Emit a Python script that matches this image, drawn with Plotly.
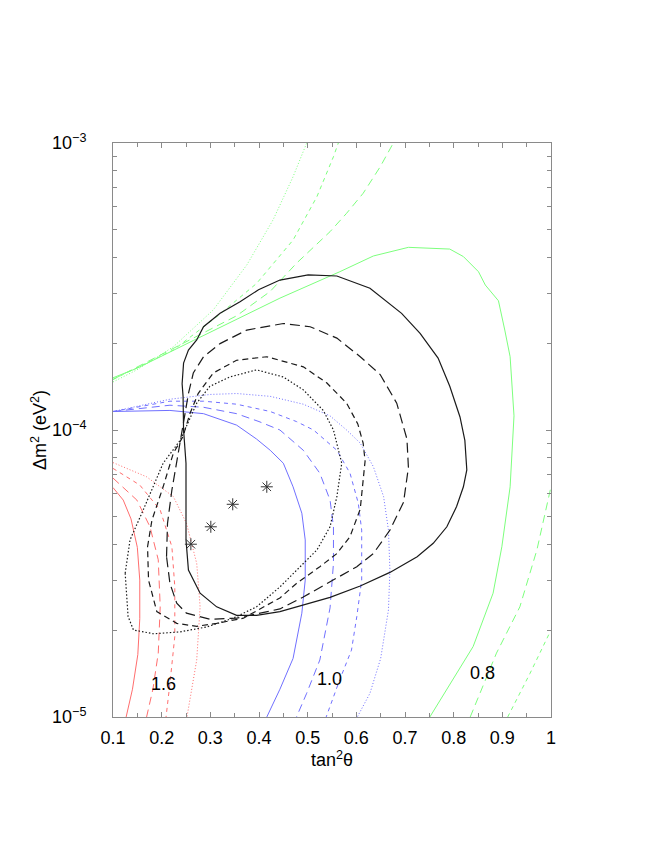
import math

import plotly.graph_objects as go

# ── Data ───────────────────────────────────────────────────────────────────────
# red band contours (label 1.6)
red_solid_x = [0.1, 0.121, 0.137, 0.150, 0.155, 0.155, 0.151, 0.140, 0.127]
red_solid_y = [6.3e-5, 5.7e-5, 4.9e-5, 3.9e-5, 3.0e-5, 2.2e-5, 1.65e-5, 1.25e-5, 1e-5]
red_long_x = [0.1, 0.149, 0.176, 0.193, 0.197, 0.193, 0.182, 0.169]
red_long_y = [6.8e-5, 5.7e-5, 4.6e-5, 3.53e-5, 2.42e-5, 1.67e-5, 1.25e-5, 1e-5]
red_short_x = [0.1, 0.155, 0.197, 0.221, 0.227, 0.227, 0.217, 0.209]
red_short_y = [7.35e-5, 6.43e-5, 5.26e-5, 3.92e-5, 2.84e-5, 1.91e-5, 1.31e-5, 1e-5]
red_dot_x = [0.1, 0.169, 0.224, 0.251, 0.272, 0.279, 0.272, 0.252]
red_dot_y = [7.7e-5, 6.87e-5, 5.86e-5, 4.73e-5, 3.43e-5, 2.42e-5, 1.58e-5, 1e-5]

# blue band contours (label 1.0)
blue_solid_x = [0.1, 0.217, 0.286, 0.354, 0.395, 0.423, 0.450, 0.470, 0.488,
                0.495, 0.495, 0.488, 0.470, 0.443, 0.416]
blue_solid_y = [1.16e-4, 1.17e-4, 1.14e-4, 1.04e-4, 9.3e-5, 8.5e-5, 7.66e-5, 6.34e-5,
                5.13e-5, 4.14e-5, 3.0e-5, 2.3e-5, 1.6e-5, 1.25e-5, 1e-5]
blue_long_x = [0.1, 0.217, 0.286, 0.354, 0.400, 0.443, 0.491, 0.525, 0.546,
               0.553, 0.553, 0.546, 0.525, 0.498, 0.477]
blue_long_y = [1.16e-4, 1.22e-4, 1.2e-4, 1.14e-4, 1.07e-4, 1e-4, 8.5e-5, 7.07e-5,
               5.7e-5, 4.6e-5, 3.43e-5, 2.4e-5, 1.58e-5, 1.21e-5, 1e-5]
blue_short_x = [0.1, 0.217, 0.286, 0.354, 0.423, 0.477, 0.512, 0.560, 0.587,
                0.604, 0.611, 0.611, 0.601, 0.590, 0.566, 0.538]
blue_short_y = [1.16e-4, 1.26e-4, 1.26e-4, 1.23e-4, 1.16e-4, 1.07e-4, 1e-4, 8.5e-5,
                7.07e-5, 5.56e-5, 4.48e-5, 3.0e-5, 2.24e-5, 1.71e-5, 1.35e-5, 1e-5]
blue_dot_x = [0.1, 0.217, 0.300, 0.354, 0.423, 0.491, 0.546, 0.580, 0.608, 0.635,
              0.656, 0.666, 0.669, 0.666, 0.650, 0.628, 0.602]
blue_dot_y = [1.16e-4, 1.28e-4, 1.33e-4, 1.34e-4, 1.31e-4, 1.23e-4, 1.12e-4, 1e-4,
              9.0e-5, 7.45e-5, 5.86e-5, 4.48e-5, 3.25e-5, 2.36e-5, 1.6e-5, 1.21e-5, 1e-5]

# green band contours (label 0.8)
green_solid_x = [0.1, 0.149, 0.265, 0.375, 0.443, 0.566, 0.635, 0.707, 0.792, 0.820,
                 0.851, 0.865, 0.892, 0.905, 0.916, 0.924, 0.916, 0.899, 0.881, 0.840, 0.751]
green_solid_y = [1.52e-4, 1.64e-4, 2.05e-4, 2.52e-4, 2.88e-4, 3.56e-4, 4.04e-4, 4.33e-4,
                 4.27e-4, 4.02e-4, 3.56e-4, 3.2e-4, 2.82e-4, 2.23e-4, 1.8e-4, 1.12e-4,
                 6.34e-5, 3.92e-5, 2.7e-5, 1.76e-5, 1e-5]
green_dot_x = [0.1, 0.149, 0.224, 0.306, 0.375, 0.429, 0.470, 0.498]
green_dot_y = [1.47e-4, 1.62e-4, 1.95e-4, 2.62e-4, 3.76e-4, 5.4e-4, 7.63e-4, 1e-3]
green_short_top_x = [0.1, 0.224, 0.313, 0.395, 0.470, 0.519, 0.553, 0.563]
green_short_top_y = [1.5e-4, 1.9e-4, 2.48e-4, 3.24e-4, 4.59e-4, 6.5e-4, 8.96e-4, 1e-3]
green_long_top_x = [0.1, 0.217, 0.354, 0.423, 0.477, 0.546, 0.580, 0.614, 0.649, 0.676]
green_long_top_y = [1.5e-4, 1.9e-4, 2.5e-4, 3.04e-4, 3.81e-4, 4.91e-4, 5.69e-4,
                    6.68e-4, 8.26e-4, 1e-3]
green_long_bot_x = [0.834, 0.888, 0.936, 0.971, 1.0]
green_long_bot_y = [1e-5, 1.67e-5, 2.42e-5, 3.82e-5, 6.34e-5]
green_short_bot_x = [0.911, 0.957, 1.0]
green_short_bot_y = [1e-5, 1.42e-5, 2.01e-5]

# black allowed regions (closed contours)
black_solid_x = [0.250, 0.250, 0.245, 0.244, 0.242, 0.245, 0.255, 0.272, 0.286, 0.320,
                 0.361, 0.399, 0.443, 0.501, 0.560, 0.628, 0.693, 0.731, 0.768, 0.792,
                 0.813, 0.823, 0.827, 0.820, 0.806, 0.786, 0.758, 0.725, 0.669, 0.608,
                 0.546, 0.443, 0.395, 0.354, 0.313, 0.279, 0.255, 0.250]
black_solid_y = [4.14e-5, 7.66e-5, 1e-4, 1.31e-4, 1.45e-4, 1.71e-4, 1.9e-4, 2.06e-4,
                 2.29e-4, 2.55e-4, 2.8e-4, 3.08e-4, 3.33e-4, 3.47e-4, 3.44e-4, 3.12e-4,
                 2.55e-4, 2.17e-4, 1.78e-4, 1.42e-4, 1.11e-4, 9.2e-5, 7.26e-5, 6.34e-5,
                 5.41e-5, 4.6e-5, 4.03e-5, 3.62e-5, 3.19e-5, 2.86e-5, 2.61e-5, 2.33e-5,
                 2.26e-5, 2.26e-5, 2.42e-5, 2.7e-5, 3.25e-5, 4.14e-5]
black_long_x = [0.210, 0.212, 0.221, 0.231, 0.241, 0.248, 0.255, 0.265, 0.286, 0.320,
                0.375, 0.450, 0.505, 0.560, 0.608, 0.649, 0.683, 0.704, 0.707, 0.697,
                0.669, 0.635, 0.601, 0.539, 0.491, 0.443, 0.354, 0.299, 0.251, 0.231,
                0.217, 0.210]
black_long_y = [3.62e-5, 4.73e-5, 6.18e-5, 7.85e-5, 9.73e-5, 1.14e-4, 1.34e-4, 1.58e-4,
                1.8e-4, 2.0e-4, 2.23e-4, 2.35e-4, 2.29e-4, 2.09e-4, 1.8e-4, 1.56e-4,
                1.24e-4, 9.3e-5, 7.4e-5, 5.6e-5, 4.48e-5, 3.71e-5, 3.34e-5, 2.92e-5,
                2.62e-5, 2.38e-5, 2.21e-5, 2.19e-5, 2.3e-5, 2.49e-5, 2.92e-5, 3.62e-5]
black_dash_x = [0.171, 0.180, 0.203, 0.224, 0.244, 0.258, 0.275, 0.306, 0.354, 0.416,
                0.491, 0.539, 0.580, 0.603, 0.614, 0.618, 0.608, 0.587, 0.560, 0.525,
                0.477, 0.443, 0.368, 0.313, 0.272, 0.231, 0.190, 0.173, 0.171]
black_dash_y = [3.92e-5, 4.85e-5, 6.34e-5, 8.3e-5, 9.5e-5, 1.14e-4, 1.34e-4, 1.58e-4,
                1.75e-4, 1.8e-4, 1.66e-4, 1.46e-4, 1.24e-4, 1.05e-4, 9e-5, 7.8e-5,
                5.3e-5, 4.25e-5, 3.71e-5, 3.34e-5, 2.92e-5, 2.6e-5, 2.21e-5, 2.12e-5,
                2.07e-5, 2.12e-5, 2.33e-5, 3.0e-5, 3.92e-5]
black_dot_x = [0.125, 0.135, 0.162, 0.203, 0.238, 0.251, 0.272, 0.299, 0.340, 0.395,
               0.450, 0.491, 0.532, 0.553, 0.570, 0.560, 0.546, 0.519, 0.484, 0.443,
               0.395, 0.347, 0.293, 0.238, 0.183, 0.142, 0.131, 0.125]
black_dot_y = [3.17e-5, 4.14e-5, 5.26e-5, 7.66e-5, 9.2e-5, 1.03e-4, 1.24e-4, 1.42e-4,
               1.53e-4, 1.62e-4, 1.53e-4, 1.38e-4, 1.17e-4, 1e-4, 7.66e-5, 5.86e-5,
               4.6e-5, 3.82e-5, 3.34e-5, 2.84e-5, 2.42e-5, 2.21e-5, 2.06e-5, 1.98e-5,
               1.95e-5, 2.01e-5, 2.24e-5, 3.17e-5]

# best-fit points
star_x = [0.260, 0.301, 0.346, 0.416]
star_y = [4.0e-5, 4.6e-5, 5.51e-5, 6.34e-5]

# contour labels
label_text = ["1.6", "1.0", "0.8"]
label_x = [0.203, 0.545, 0.860]
label_y = [1.30e-5, 1.36e-5, 1.42e-5]

x_ticks = [0.1, 0.2, 0.3, 0.4, 0.5, 0.6, 0.7, 0.8, 0.9, 1.0]
x_tick_text = ["0.1", "0.2", "0.3", "0.4", "0.5", "0.6", "0.7", "0.8", "0.9", "1"]
y_ticks = [1e-5, 1e-4, 1e-3]
y_tick_text = ["10<sup>−5</sup>", "10<sup>−4</sup>", "10<sup>−3</sup>"]

# ── Style tokens ───────────────────────────────────────────────────────────────
RED = "#ff6e6e"
BLUE = "#7070ff"
GREEN = "#7dff7d"
BLACK = "#1a1a1a"
FRAME = "#8a8a8a"
FONT = dict(family="Liberation Sans, Arial, sans-serif", size=18, color="black")

LONG = "8px,5px"
SHORT = "4px,4px"
DOT = "1px,2px"

fig = go.Figure()


def add_line(x, y, color, dash="solid", width=1.0):
    fig.add_trace(go.Scatter(
        x=x, y=y, mode="lines",
        line=dict(color=color, width=width, dash=dash),
        hoverinfo="skip", showlegend=False,
    ))


# coloured bands
add_line(red_solid_x, red_solid_y, RED)
add_line(red_long_x, red_long_y, RED, LONG)
add_line(red_short_x, red_short_y, RED, SHORT)
add_line(red_dot_x, red_dot_y, RED, DOT)

add_line(blue_solid_x, blue_solid_y, BLUE)
add_line(blue_long_x, blue_long_y, BLUE, LONG)
add_line(blue_short_x, blue_short_y, BLUE, SHORT)
add_line(blue_dot_x, blue_dot_y, BLUE, DOT)

add_line(green_solid_x, green_solid_y, GREEN)
add_line(green_dot_x, green_dot_y, GREEN, DOT)
add_line(green_short_top_x, green_short_top_y, GREEN, SHORT)
add_line(green_long_top_x, green_long_top_y, GREEN, LONG)
add_line(green_long_bot_x, green_long_bot_y, GREEN, LONG)
add_line(green_short_bot_x, green_short_bot_y, GREEN, SHORT)

# black regions
add_line(black_solid_x, black_solid_y, BLACK, "solid", 1.2)
add_line(black_long_x, black_long_y, BLACK, "10px,5px", 1.2)
add_line(black_dash_x, black_dash_y, BLACK, "6px,4px", 1.2)
add_line(black_dot_x, black_dot_y, BLACK, "1.5px,2px", 1.2)

fig.add_trace(go.Scatter(
    x=star_x, y=star_y, mode="markers",
    marker=dict(symbol="asterisk-open", size=10, color="#333",
                line=dict(color="#333", width=1)),
    hoverinfo="skip", showlegend=False,
))

for txt, lx, ly in zip(label_text, label_x, label_y):
    fig.add_annotation(x=lx, y=math.log10(ly), text=txt, showarrow=False,
                       font=FONT)

# minor ticks: log multiples on y, half steps on x
y_minor = [m * 10 ** e for e in (-5, -4) for m in range(2, 10)]
x_minor = [round(0.15 + 0.1 * i, 2) for i in range(9)]

# page body adds an 8px offset, margins compensate for it
fig.update_layout(
    width=664, height=860,
    font=FONT,
    plot_bgcolor="white", paper_bgcolor="white",
    margin=dict(l=105, r=121, t=135, b=151),
    showlegend=False,
    xaxis=dict(
        range=[0.1, 1.0],
        tickvals=x_ticks, ticktext=x_tick_text,
        ticks="inside", ticklen=5, tickcolor=FRAME,
        minor=dict(tickvals=x_minor, ticks="inside", ticklen=4, tickcolor=FRAME),
        showline=True, linecolor=FRAME, linewidth=1, mirror="ticks",
        showgrid=False, zeroline=False,
        ticklabelstandoff=4,
        title=dict(text="tan<sup>2</sup>θ", standoff=6, font=FONT),
    ),
    yaxis=dict(
        type="log", range=[-5, -3],
        tickvals=y_ticks, ticktext=y_tick_text,
        ticks="inside", ticklen=5, tickcolor=FRAME,
        minor=dict(tickvals=y_minor, ticks="inside", ticklen=4, tickcolor=FRAME),
        showline=True, linecolor=FRAME, linewidth=1, mirror="ticks",
        showgrid=False, zeroline=False,
        ticklabelstandoff=22,
        title=dict(text="Δm<sup>2</sup> (eV<sup>2</sup>)", standoff=0, font=FONT),
    ),
)

fig.write_html("out.html")
